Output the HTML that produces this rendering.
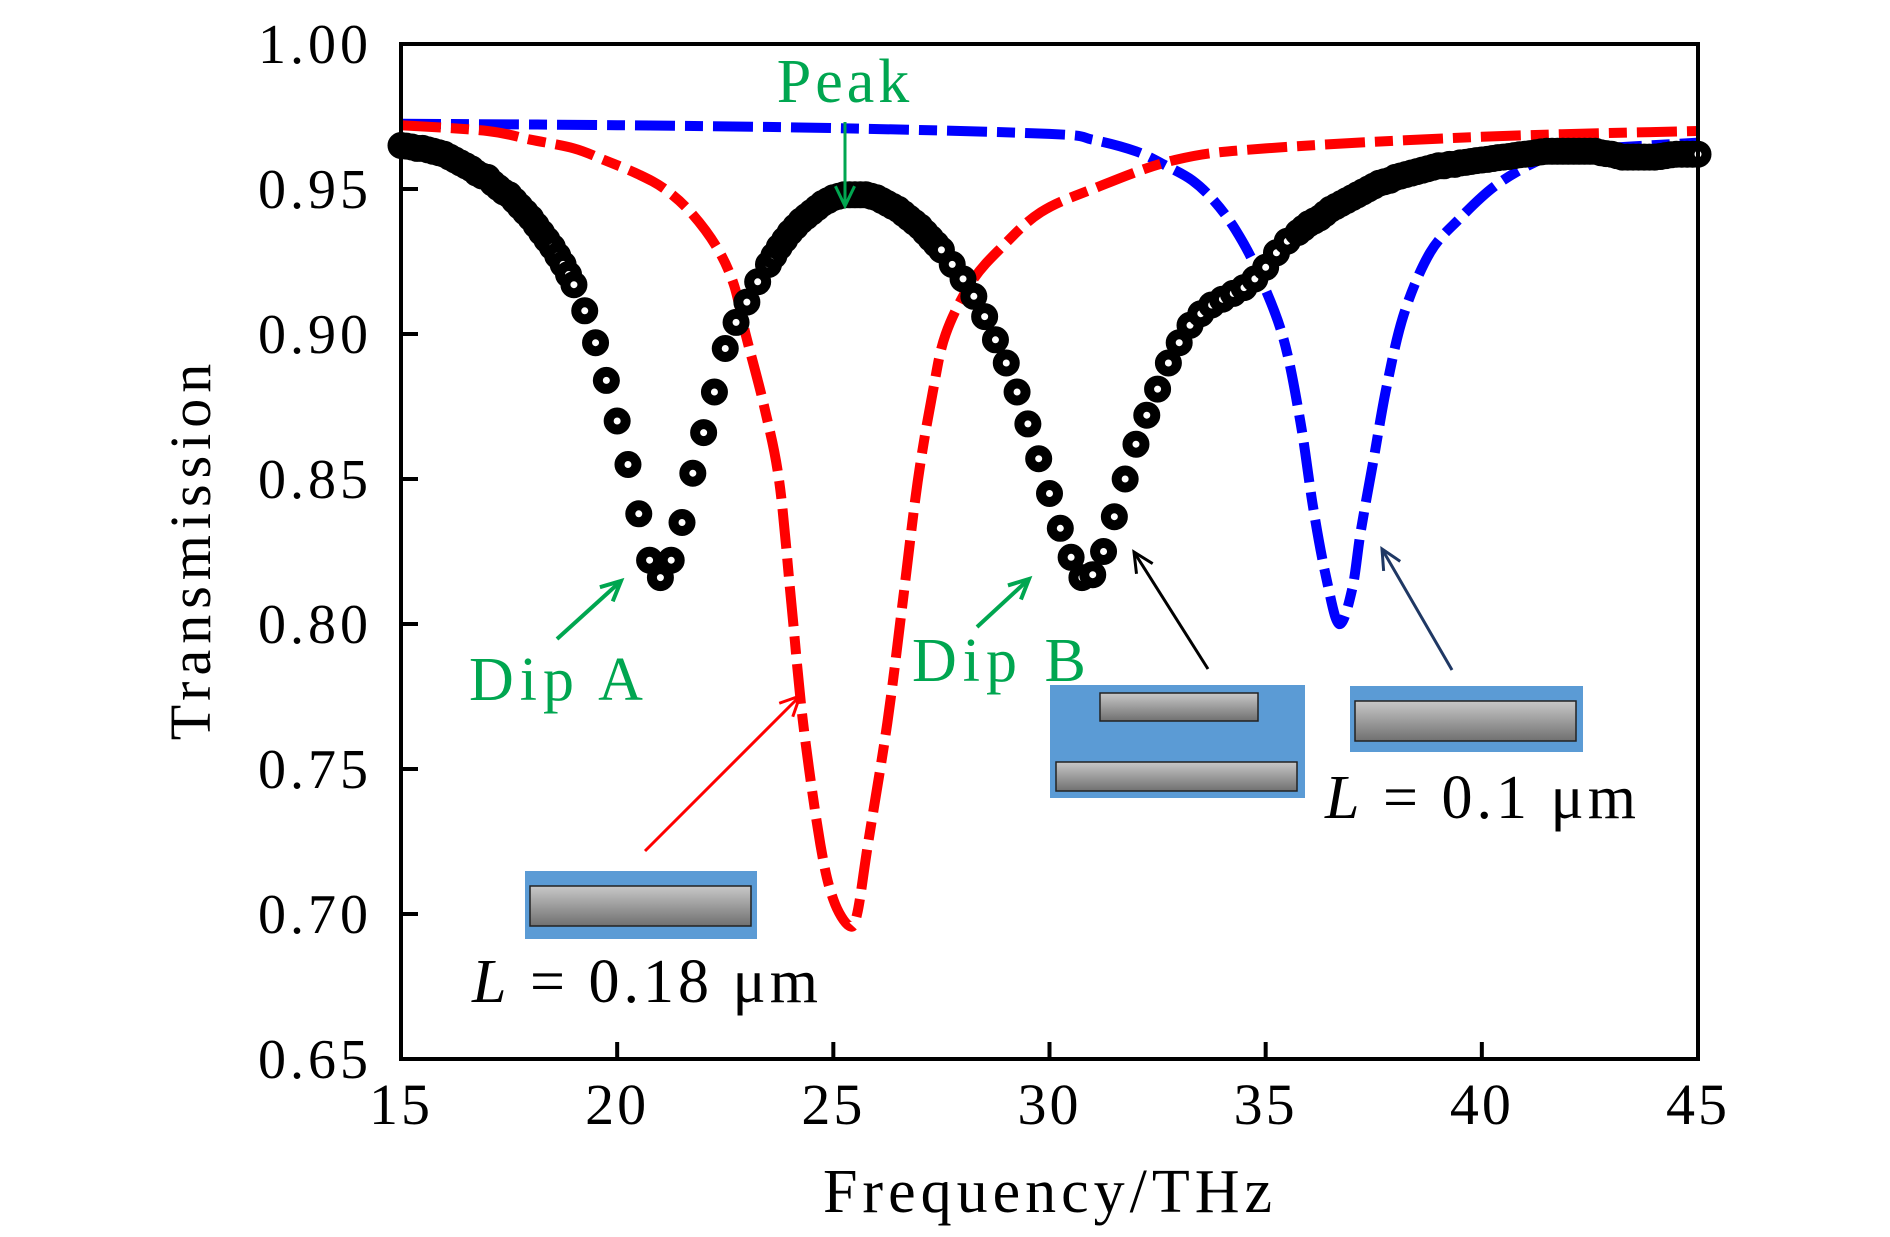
<!DOCTYPE html>
<html><head><meta charset="utf-8"><style>
html,body{margin:0;padding:0;background:#fff;}
svg{display:block;}
text{font-family:"Liberation Serif",serif;}
</style></head><body>
<svg id="chart" width="1890" height="1237" viewBox="0 0 1890 1237" xmlns="http://www.w3.org/2000/svg">
<defs>
<linearGradient id="gr" x1="0" y1="0" x2="0" y2="1"><stop offset="0" stop-color="#c8c8c8"/><stop offset="1" stop-color="#707070"/></linearGradient>
</defs>
<g id="plot"></g>
<g id="axes"></g>
<g id="annot">
  <text x="845" y="102" font-size="62" fill="#00a650" text-anchor="middle" letter-spacing="4">Peak</text>
  <text x="469" y="700" font-size="62" fill="#00a650" letter-spacing="6">Dip A</text>
  <text x="912" y="681" font-size="62" fill="#00a650" letter-spacing="6">Dip B</text>
  <text x="472" y="1002" font-size="62" fill="#000" letter-spacing="4"><tspan font-style="italic">L</tspan> = 0.18 μm</text>
  <text x="1325" y="818" font-size="62" fill="#000" letter-spacing="4"><tspan font-style="italic">L</tspan> = 0.1 μm</text>
  <g>
    <rect x="525" y="871" width="232" height="68" fill="#5b9bd5"/>
    <rect x="530" y="886" width="221" height="40" fill="url(#gr)" stroke="#222" stroke-width="1.5"/>
  </g>
  <g>
    <rect x="1050" y="685" width="255" height="113" fill="#5b9bd5"/>
    <rect x="1100" y="693" width="158" height="28" fill="url(#gr)" stroke="#222" stroke-width="1.5"/>
    <rect x="1056" y="762" width="241" height="29" fill="url(#gr)" stroke="#222" stroke-width="1.5"/>
  </g>
  <g>
    <rect x="1350" y="686" width="233" height="66" fill="#5b9bd5"/>
    <rect x="1355" y="701" width="221" height="40" fill="url(#gr)" stroke="#222" stroke-width="1.5"/>
  </g>
</g>
</svg>
<script>
// Black measured curve (THz, transmission)
const blackF = [15,15.125,15.25,15.375,15.5,15.625,15.75,15.875,16,16.125,16.25,16.375,16.5,16.625,16.75,16.875,17,17.125,17.25,17.375,17.5,17.625,17.75,17.875,18,18.125,18.25,18.375,18.5,18.625,18.75,18.875,19,
19.25,19.5,19.75,20,20.25,20.5,20.75,21,21.25,21.5,21.75,22,22.25,22.5,22.75,23,23.25,23.5,
23.625,23.75,23.875,24,24.125,24.25,24.375,24.5,24.625,24.75,24.875,25,25.125,25.25,25.375,25.5,25.625,25.75,25.875,26,26.125,26.25,26.375,26.5,26.625,26.75,26.875,27,27.125,27.25,27.375,27.5,
27.75,28,28.25,28.5,28.75,29,29.25,29.5,29.75,30,30.25,30.5,30.75,31,31.25,31.5,31.75,32,32.25,32.5,32.75,33,33.25,33.5,33.75,34,34.25,34.5,34.75,35,35.25,35.5,35.75,
35.875,36,36.125,36.25,36.375,36.5,36.625,36.75,36.875,37,37.125,37.25,37.375,37.5,37.625,37.75,37.875,38,38.125,38.25,38.375,38.5,38.625,38.75,38.875,39,39.125,39.25,39.375,39.5,39.625,39.75,39.875,40,40.125,40.25,40.375,40.5,40.625,40.75,40.875,41,41.125,41.25,41.375,41.5,41.625,41.75,41.875,42,42.125,42.25,42.375,42.5,42.625,42.75,42.875,43,43.125,43.25,43.375,43.5,43.625,43.75,43.875,44,44.125,44.25,44.375,44.5,44.625,44.75,44.875,45];
const blackT = [.965,.9648,.9645,.964,.964,.9635,.963,.9625,.962,.961,.960,.959,.958,.957,.9555,.9545,.954,.952,.9505,.949,.948,.946,.944,.942,.940,.9375,.935,.9325,.930,.927,.924,.9205,.917,
.908,.897,.884,.870,.855,.838,.822,.816,.822,.835,.852,.866,.880,.895,.904,.911,.918,.924,
.927,.930,.9325,.935,.937,.939,.9405,.942,.9435,.945,.946,.947,.9475,.948,.948,.948,.948,.948,.9475,.947,.946,.945,.944,.943,.9415,.940,.9385,.937,.935,.933,.931,.929,
.924,.919,.913,.906,.898,.890,.880,.869,.857,.845,.833,.823,.816,.817,.825,.837,.850,.862,.872,.881,.890,.897,.903,.907,.910,.912,.914,.916,.919,.923,.928,.932,.935,
.9365,.938,.939,.940,.9415,.943,.944,.945,.946,.947,.948,.949,.950,.951,.952,.9525,.953,.954,.9545,.955,.9555,.956,.9565,.957,.9575,.958,.958,.9585,.9585,.959,.9592,.9595,.9598,.960,.9602,.9605,.9608,.961,.9612,.9615,.9618,.962,.9622,.9625,.9628,.963,.963,.963,.963,.963,.963,.963,.963,.963,.963,.9625,.9622,.962,.9615,.961,.961,.961,.961,.961,.961,.961,.9612,.9615,.9618,.962,.962,.962,.962,.962];
// Red simulated curve (L = 0.18 um)
const redF = [15,17,18,19,19.7,20.5,21.1,21.7,22.3,22.7,22.97,23.4,23.75,24.03,24.3,24.7,25.0,25.36,25.55,25.8,26.25,26.6,26.95,27.3,27.6,28.2,28.9,29.8,31,32.9,35,40,45];
const redT = [.972,.970,.967,.964,.960,.955,.950,.942,.930,.917,.900,.875,.849,.807,.766,.724,.705,.696,.700,.724,.766,.807,.849,.880,.900,.918,.930,.942,.950,.960,.964,.968,.970];
// Blue simulated curve (L = 0.1 um)
const blueF = [15,20,25,30,31,32,32.7,33.3,33.8,34.3,34.8,35.4,35.8,36.1,36.4,36.7,37,37.2,37.5,37.8,38.2,38.8,39.5,40.3,41.2,42,45];
const blueT = [.9725,.972,.971,.969,.967,.963,.958,.953,.946,.936,.922,.899,.870,.840,.816,.800,.812,.832,.857,.882,.907,.928,.940,.951,.959,.963,.966];
const xTicks = [15,20,25,30,35,40,45];
const yTicks = [0.65,0.70,0.75,0.80,0.85,0.90,0.95,1.00];
const yTickLabels = ["0.65","0.70","0.75","0.80","0.85","0.90","0.95","1.00"];

const X0=401,X1=1698,Y0=1059,Y1=44;
const xs=f=>X0+(f-15)/(45-15)*(X1-X0);
const ys=t=>Y0-(t-0.65)/(1.0-0.65)*(Y0-Y1);
const NS="http://www.w3.org/2000/svg";
function mk(tag,attrs,parent){const e=document.createElementNS(NS,tag);for(const k in attrs)e.setAttribute(k,attrs[k]);parent.appendChild(e);return e;}
function smoothPath(F,T){
  const p=F.map((f,i)=>[xs(f),ys(T[i])]);
  let d="M"+p[0][0]+","+p[0][1];
  for(let i=0;i<p.length-1;i++){
    const p0=p[i-1]||p[i],p1=p[i],p2=p[i+1],p3=p[i+2]||p2;
    const c1=[p1[0]+(p2[0]-p0[0])/6,p1[1]+(p2[1]-p0[1])/6];
    const c2=[p2[0]-(p3[0]-p1[0])/6,p2[1]-(p3[1]-p1[1])/6];
    d+=" C"+c1+" "+c2+" "+p2;
  }
  return d;
}
const plot=document.getElementById('plot');
const blue=mk('path',{d:smoothPath(blueF,blueT),fill:'none',stroke:'#0000ff','stroke-width':10,'stroke-dasharray':'40 10 18 10'},plot);


const red=mk('path',{d:smoothPath(redF,redT),fill:'none',stroke:'#ff0000','stroke-width':10,'stroke-dasharray':'40 10 18 10'},plot);


const bg=mk('g',{},plot);


blackF.forEach((f,i)=>{
  const c=mk('circle',{cx:xs(f),cy:ys(blackT[i]),r:8.5,fill:'#fff',stroke:'#000','stroke-width':10},bg);
  
  
});
const ann=document.getElementById('annot');
function arrow(x1,y1,x2,y2,col,name,w){
  const g=mk('g',{},ann);
  
  
  mk('line',{x1,y1,x2,y2,stroke:col,'stroke-width':w},g);
  const a=Math.atan2(y2-y1,x2-x1),L=22,s=0.45;
  mk('polyline',{points:`${x2-L*Math.cos(a-s)},${y2-L*Math.sin(a-s)} ${x2},${y2} ${x2-L*Math.cos(a+s)},${y2-L*Math.sin(a+s)}`,fill:'none',stroke:col,'stroke-width':w},g);
}
arrow(845,122,845,206,'#00a650','peak-arrow',3);
arrow(557,639,621,581,'#00a650','dip-a-arrow',4);
arrow(977,627,1029,579,'#00a650','dip-b-arrow',4);
arrow(1208,669,1134,552,'#000','double-inset-arrow',3);
arrow(1452,670,1382,549,'#1f3864','short-inset-arrow',3);
arrow(645,851,800,696,'#ff0000','long-inset-arrow',3);
const ax=document.getElementById('axes');
const fr=mk('rect',{x:X0,y:Y1,width:X1-X0,height:Y0-Y1,fill:'none',stroke:'#000','stroke-width':4},ax);


xTicks.forEach(v=>{
  const x=xs(v);
  const t=mk('line',{x1:x,y1:Y0,x2:x,y2:Y0-17,stroke:'#000','stroke-width':4},ax);
  
  
  const l=mk('text',{x:x,y:1124,'font-size':58,'text-anchor':'middle','letter-spacing':3},ax);
  l.textContent=v;
  
  
});
yTicks.forEach((v,i)=>{
  const y=ys(v);
  const t=mk('line',{x1:X0,y1:y,x2:X0+17,y2:y,stroke:'#000','stroke-width':4},ax);
  
  
  const l=mk('text',{x:372,y:y+19,'font-size':56,'text-anchor':'end','letter-spacing':4},ax);
  l.textContent=yTickLabels[i];
  
  
});
const xt=mk('text',{x:1050,y:1212,'font-size':62,'text-anchor':'middle','letter-spacing':5},ax);
xt.textContent='Frequency/THz';


const yt=mk('text',{x:0,y:0,'font-size':58,'text-anchor':'middle','letter-spacing':6,transform:'translate(210,549) rotate(-90)'},ax);
yt.textContent='Transmission';


</script>
</body></html>
